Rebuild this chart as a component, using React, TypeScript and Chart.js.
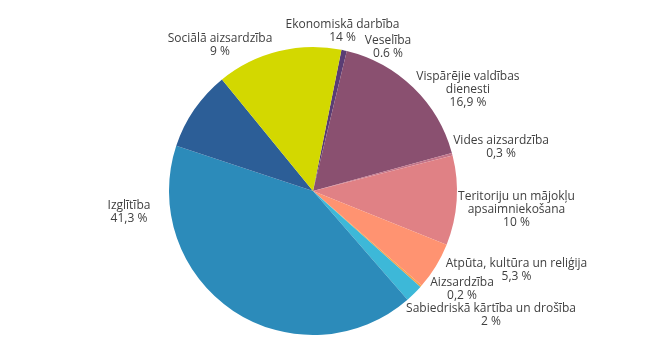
import React, { useEffect, useRef } from "react";
import { Chart, registerables } from "chart.js";

Chart.register(...registerables);

const categories = [
  "Veselība",
  "Vispārējie valdības\ndienesti",
  "Vides aizsardzība",
  "Teritoriju un mājokļu\napsaimniekošana",
  "Atpūta, kultūra un reliģija",
  "Aizsardzība",
  "Sabiedriskā kārtība un drošība",
  "Izglītība",
  "Sociālā aizsardzība",
  "Ekonomiskā darbība",
];
const values = [0.6, 16.9, 0.3, 10, 5.3, 0.2, 2, 41.3, 9, 14];
const valueLabels = ["0.6 %", "16,9 %", "0,3 %", "10 %", "5,3 %", "0,2 %", "2 %", "41,3 %", "9 %", "14 %"];
const colors = [
  "#5A3D74",
  "#8A5070",
  "#C27489",
  "#E08185",
  "#FF9371",
  "#F7A24B",
  "#3DB8D8",
  "#2C8BBA",
  "#2C5E97",
  "#D3D800",
];
// label block centre offsets, as fractions of the pie radius
const labelOffsetX = [0.521, 1.076, 1.306, 1.413, 1.413, 1.035, 1.236, -1.278, -0.646, 0.205];
const labelOffsetY = [-1.0, -0.705, -0.302, 0.128, 0.549, 0.681, 0.861, 0.144, -1.016, -1.109];

const FONT = "12px 'Open Sans', sans-serif";
const LINE_H = 13;

const labelPlugin = {
  id: "outerLabels",
  afterDatasetsDraw(chart: any) {
    const meta = chart.getDatasetMeta(0);
    if (!meta || !meta.data.length) return;
    const p = meta.data[0].getProps(["x", "y", "outerRadius"], true);
    const ctx = chart.ctx;
    ctx.save();
    ctx.font = FONT;
    ctx.fillStyle = "#404040";
    ctx.textAlign = "center";
    ctx.textBaseline = "middle";
    categories.forEach((cat, i) => {
      const lines = cat.split("\n").concat([valueLabels[i]]);
      const cx = p.x + labelOffsetX[i] * p.outerRadius;
      const cy = p.y + labelOffsetY[i] * p.outerRadius;
      const top = cy - ((lines.length - 1) * LINE_H) / 2;
      lines.forEach((ln, j) => ctx.fillText(ln, cx, top + j * LINE_H));
    });
    ctx.restore();
  },
};

export default function App() {
  const ref = useRef<HTMLCanvasElement | null>(null);
  useEffect(() => {
    document.body.style.margin = "0";
    const chart = new Chart(ref.current as HTMLCanvasElement, {
      type: "pie",
      data: {
        labels: categories.map((c) => c.replace("\n", " ")),
        datasets: [
          {
            data: values,
            backgroundColor: colors,
            borderWidth: 0,
            hoverOffset: 0,
          },
        ],
      },
      options: {
        animation: false,
        responsive: false,
        rotation: 11.4,
        layout: { padding: { top: 47, bottom: 17, left: 100, right: 144 } },
        plugins: {
          legend: { display: false },
          tooltip: { enabled: false },
        },
      },
      plugins: [labelPlugin],
    });
    return () => chart.destroy();
  }, []);
  return (
    <div style={{ width: 670, height: 352, background: "#fff" }}>
      <canvas ref={ref} width={670} height={352} />
    </div>
  );
}
